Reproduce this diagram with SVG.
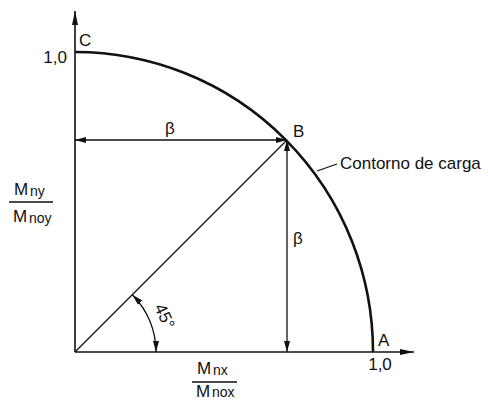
<svg xmlns="http://www.w3.org/2000/svg" width="488" height="402" viewBox="0 0 488 402">
<style>
text{font-family:"Liberation Sans",Arial,sans-serif;fill:#111}
.lbl{font-size:17px}
.sub{font-size:14px}
.ax{stroke:#111;stroke-width:1.6;fill:none}
.ln{stroke:#111;stroke-width:1.3;fill:none}
.cv{stroke:#111;stroke-width:2.6;fill:none}
</style>
<defs>
<marker id="ah" viewBox="0 0 11 6" refX="11" refY="3" markerWidth="11" markerHeight="6" markerUnits="userSpaceOnUse" orient="auto-start-reverse"><path d="M0,0 L11,3 L0,6 z" fill="#111"/></marker>
<marker id="axh" viewBox="0 0 14 6" refX="14" refY="3" markerWidth="14" markerHeight="6" markerUnits="userSpaceOnUse" orient="auto"><path d="M0,0 L14,3 L0,6 z" fill="#111"/></marker>
</defs>
<rect width="488" height="402" fill="#fff"/>
<g id="connectors">
<path class="ax" d="M75,352 V11" marker-end="url(#axh)"/>
<path class="ax" d="M75,352 H414" marker-end="url(#axh)"/>
<path class="cv" d="M75,52 A298,300 0 0 1 373,352"/>
<path class="ln" d="M75,140 H287" marker-start="url(#ah)" marker-end="url(#ah)"/>
<path class="ln" d="M287,352 V140" marker-start="url(#ah)" marker-end="url(#ah)"/>
<path class="ln" d="M75,352 L287,140"/>
<path class="ln" d="M132.3,294.7 A81,81 0 0 1 156,352" marker-start="url(#ah)" marker-end="url(#ah)"/>
<path class="ln" d="M317,171 L337,164"/>
</g>
<g id="labels">
<text class="lbl" x="79" y="46">C</text>
<text class="lbl" x="67" y="63" text-anchor="end">1,0</text>
<text class="lbl" x="293" y="137">B</text>
<text class="lbl" x="378" y="346">A</text>
<text class="lbl" x="380" y="370" text-anchor="middle">1,0</text>
<text class="lbl" x="170" y="134" text-anchor="middle">β</text>
<text class="lbl" x="298" y="244" text-anchor="middle">β</text>
<text class="lbl" x="340" y="169">Contorno de carga</text>
<text class="lbl" transform="translate(154,307) rotate(65)">45°</text>
</g>
<g id="yfrac">
<text class="lbl" x="14" y="195">M</text><text class="sub" x="30" y="196">ny</text>
<line class="ln" x1="9" y1="202" x2="53" y2="202"/>
<text class="lbl" x="13" y="222">M</text><text class="sub" x="29" y="223">noy</text>
</g>
<g id="xfrac">
<text class="lbl" x="197" y="374">M</text><text class="sub" x="213" y="375">nx</text>
<line class="ln" x1="192" y1="382" x2="237" y2="382"/>
<text class="lbl" x="196" y="397">M</text><text class="sub" x="212" y="397">nox</text>
</g>
</svg>
